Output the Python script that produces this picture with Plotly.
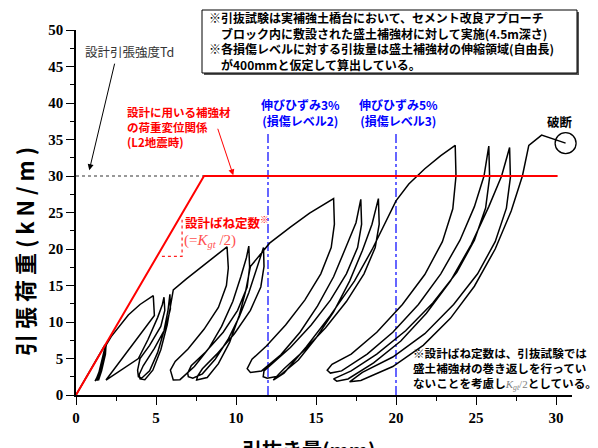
import plotly.graph_objects as go

# ---------------- data ----------------
# design load-displacement relation (red) and design tensile strength (dotted)
design_x = [0, 8, 30.1]
design_y = [0, 30, 30]
td_x = [0, 8]
td_y = [30, 30]
# slope triangle for design spring constant
spring_x = [5.37, 6.63, 6.63]
spring_y = [19.0, 19.0, 24.0]
# strain levels (blue dash-dot lines)
strain3_x = [12, 12]
strain5_x = [20, 20]
strain_y = [0, 36]

# cyclic pull-out test curve, level by level
lvl1_x = [0, 0.5, 1.0, 1.5, 1.81, 1.78, 1.5, 1.25, 1.19, 1.4, 1.62, 1.8, 1.86, 1.82, 1.52, 1.3,
          1.5, 1.7, 1.88, 1.84, 1.6, 1.4, 1.62, 1.8, 1.9]
lvl1_y = [0, 1.9, 3.75, 5.6, 6.85, 5.8, 3.5, 2.1, 1.9, 2.8, 4.9, 6.5, 6.95, 5.4, 3.0, 1.95,
          3.0, 5.1, 6.95, 5.6, 3.3, 2.0, 3.6, 5.8, 6.9]

lvl2_x = [2.2, 2.7, 3.27, 4.0, 4.83, 4.9, 4.0, 1.875, 3.9, 4.5, 5.1, 5.4, 5.5, 5.55, 5.3, 4.6,
          4.0, 3.85, 3.9, 4.1, 4.6, 5.1, 5.5, 5.75, 5.87, 5.9, 5.6, 4.9, 4.2, 3.95, 4.0, 4.3]
lvl2_y = [8.0, 9.4, 10.96, 12.4, 13.6, 10.9, 8.3, 2.05, 5.0, 7.6, 10.6, 12.4, 13.4, 11.6, 9.4, 6.8,
          5.0, 3.4, 2.5, 2.3, 3.3, 5.8, 8.8, 11.6, 13.8, 11.8, 9.2, 6.4, 4.0, 2.8, 2.2, 2.1]

lvl3_x = [4.8, 5.3, 5.7, 5.95, 6.08, 6.9, 7.96, 8.8, 9.44, 9.52, 9.4, 8.9, 8.0, 7.0, 6.2, 5.9,
          6.08, 6.5, 7.4, 8.3, 9.1, 9.8, 10.3, 10.65, 10.8, 10.85, 10.7, 10.1, 9.2, 8.1, 7.2,
          6.98, 7.02, 7.3, 7.9, 8.7, 9.5, 10.2, 10.8, 11.3, 11.6, 11.72, 11.75, 11.55, 10.9,
          9.9, 8.8, 7.9, 7.6, 7.54]
lvl3_y = [3.4, 6.2, 9.6, 12.6, 14.4, 15.9, 17.8, 19.2, 20.3, 17.4, 15.0, 12.0, 9.0, 6.3, 4.6, 3.4,
          2.05, 2.1, 3.9, 6.4, 9.4, 12.8, 16.2, 18.8, 20.4, 17.5, 14.8, 11.6, 8.6, 5.9, 4.0,
          3.0, 2.5, 2.3, 2.9, 4.9, 7.6, 10.7, 14.0, 17.2, 19.2, 20.2, 17.6, 14.8, 11.6,
          8.4, 5.6, 3.6, 2.6, 2.05]

lvl4_x = [8.2, 8.9, 9.6, 10.2, 10.6, 10.9, 12.1, 13.4, 14.6, 15.4, 16.1, 16.15, 15.95, 15.3, 14.3,
          13.1, 11.9, 11.0, 10.7, 10.9, 11.6, 12.8, 14.0, 15.1, 16.1, 16.9, 17.5, 17.8, 17.85,
          17.6, 16.9, 15.9, 14.7, 13.4, 12.3, 11.75, 11.7, 11.95, 12.7, 13.9, 15.0, 16.1, 17.1,
          17.9, 18.5, 18.9, 18.95, 18.7, 18.0, 16.9, 15.6, 14.2, 13.0, 12.4, 12.33]
lvl4_y = [2.4, 4.3, 7.2, 10.9, 14.2, 17.6, 20.8, 23.0, 24.9, 26.0, 26.9, 23.4, 20.2, 16.6, 13.0,
          9.6, 6.7, 4.9, 3.6, 3.1, 3.3, 5.5, 8.6, 12.2, 16.2, 20.4, 23.6, 26.8, 23.4,
          20.2, 16.6, 13.0, 9.6, 6.5, 4.4, 3.3, 2.5, 2.3, 2.6, 4.8, 7.8, 11.4, 15.6,
          19.8, 23.4, 26.9, 23.4, 20.2, 16.6, 12.8, 9.2, 6.0, 3.6, 2.3, 2.05]

lvl5_x = [13.0, 14.4, 15.9, 17.4, 18.5, 19.3, 20.0, 20.8, 21.8, 22.8, 23.7,
          23.75, 23.55, 22.9, 21.8, 20.4, 18.8, 17.2, 16.0, 15.7, 15.9,
          16.6, 18.2, 19.8, 21.4, 22.8, 24.0, 24.9, 25.5, 25.8,
          25.85, 25.6, 24.9, 23.8, 22.3, 20.6, 18.8, 17.2, 16.1, 16.3,
          17.0, 18.6, 20.3, 21.9, 23.4, 24.7, 25.8, 26.6, 27.1,
          27.15, 26.9, 26.2, 25.1, 23.6, 21.8, 19.8, 17.9, 17.1]
lvl5_y = [3.0, 6.6, 10.9, 15.6, 19.9, 23.6, 26.6, 28.9, 31.0, 32.8, 34.2,
          30.0, 25.5, 21.0, 16.5, 12.4, 8.6, 5.6, 4.2, 3.4, 3.0,
          3.3, 5.6, 8.6, 12.4, 16.6, 21.2, 25.8, 30.0, 34.1,
          29.8, 25.6, 21.2, 16.8, 12.6, 8.8, 5.6, 3.3, 2.2, 1.9,
          2.2, 4.4, 7.4, 11.2, 15.6, 20.6, 25.8, 30.0, 33.9,
          29.8, 25.6, 21.0, 16.6, 12.4, 8.4, 5.2, 3.1, 1.8]

final_x = [17.8, 19.8, 21.7, 23.4, 24.9, 26.2, 27.2, 27.9, 28.3, 29.1, 30.6]
final_y = [2.0, 3.9, 6.8, 10.5, 14.9, 20.0, 25.2, 30.0, 34.2, 35.6, 34.5]

rupture_x = [30.6]
rupture_y = [34.5]

x_ticks = [0, 5, 10, 15, 20, 25, 30]
y_ticks = [0, 5, 10, 15, 20, 25, 30, 35, 40, 45, 50]

# ---------------- geometry helpers (screen pixel -> paper) ----------------
OFF = 8                      # page body margin of the browser
L, R, T, B = 76, 572, 30, 395  # plot area edges on screen
W, H = 598 - OFF, 448 - OFF


def px(x):
    return (x - L) / (R - L)


def py(y):
    return (B - y) / (B - T)


JP = "Noto Sans CJK JP"
SERIF = "Liberation Serif"

curve_x = lvl1_x + lvl2_x + lvl3_x + lvl4_x + lvl5_x + final_x
curve_y = lvl1_y + lvl2_y + lvl3_y + lvl4_y + lvl5_y + final_y

fig = go.Figure()
fig.add_trace(go.Scatter(x=td_x, y=td_y, mode="lines",
                         line=dict(color="#333333", width=1.2, dash="dot"), hoverinfo="skip"))
fig.add_trace(go.Scatter(x=strain3_x, y=strain_y, mode="lines",
                         line=dict(color="#0000ff", width=1.2, dash="dashdot"), hoverinfo="skip"))
fig.add_trace(go.Scatter(x=strain5_x, y=strain_y, mode="lines",
                         line=dict(color="#0000ff", width=1.2, dash="dashdot"), hoverinfo="skip"))
fig.add_trace(go.Scatter(x=spring_x, y=spring_y, mode="lines",
                         line=dict(color="#ff2020", width=1.2, dash="dot"), hoverinfo="skip"))
fig.add_trace(go.Scatter(x=curve_x, y=curve_y, mode="lines",
                         line=dict(color="black", width=1.5), hoverinfo="skip"))
fig.add_trace(go.Scatter(x=design_x, y=design_y, mode="lines",
                         line=dict(color="#ff0000", width=2), hoverinfo="skip"))
fig.add_trace(go.Scatter(x=rupture_x, y=rupture_y, mode="markers", cliponaxis=False,
                         marker=dict(symbol="circle-open", size=21, color="black",
                                     line=dict(width=1.3, color="black")),
                         hoverinfo="skip"))

axis_common = dict(
    showgrid=False, zeroline=False, showline=True, linecolor="black", linewidth=1.5,
    ticks="outside", ticklen=8, tickwidth=1.3, tickcolor="black",
    tickfont=dict(family=SERIF, size=15, color="black", weight="bold"),
    minor=dict(ticks="outside", ticklen=4, tickwidth=1.2, tickcolor="black", dtick=2.5),
)
fig.update_xaxes(range=[0, 31], tickvals=x_ticks, **axis_common)
fig.update_yaxes(range=[0, 50], tickvals=y_ticks, **axis_common)

ann = []


def text(x, y, s, size=12.5, color="black", bold=True, family=JP, anchor="left",
         yanchor="middle"):
    ann.append(dict(xref="paper", yref="paper", x=px(x), y=py(y), text=s, showarrow=False,
                    xanchor=anchor, yanchor=yanchor, align="left",
                    font=dict(family=family, size=size, color=color,
                              weight="bold" if bold else "normal")))


# axis titles
ann.append(dict(xref="paper", yref="paper", x=px(24), y=py(252),
                text="引 張 荷 重 ( k N / m )",
                showarrow=False, textangle=-90, xanchor="center", yanchor="middle",
                font=dict(family=JP, size=22, color="black", weight="bold")))
ann.append(dict(xref="paper", yref="paper", x=px(309), y=py(433), text="引抜き量(mm)",
                showarrow=False, xanchor="center", yanchor="top",
                font=dict(family=JP, size=20, color="black", weight="bold")))

# top note box
text(207, 40.5,
     "※引抜試験は実補強土橋台において、セメント改良アプローチ<br>"
     "　ブロック内に敷設された盛土補強材に対して実施(4.5m深さ)<br>"
     "※各損傷レベルに対する引抜量は盛土補強材の伸縮領域(自由長)<br>"
     "　が400mmと仮定して算出している。", size=12)

# design tensile strength label + arrow
text(83, 52, "設計引張強度Td", size=12.5, color="#333333", bold=False)
ann.append(dict(xref="x", yref="y", x=0.83, y=30.8, ax=25.7, ay=-108, axref="pixel",
                ayref="pixel", text="", showarrow=True, arrowhead=2, arrowsize=1.2,
                arrowwidth=1, arrowcolor="black"))

# red design relation label + arrow
text(125, 127, "設計に用いる補強材<br>の荷重変位関係<br>(L2地震時)", size=11.5, color="#ff0000")
ann.append(dict(xref="x", yref="y", x=9.83, y=30.1, ax=-16, ay=-48, axref="pixel",
                ayref="pixel", text="", showarrow=True, arrowhead=2, arrowsize=1.2,
                arrowwidth=1, arrowcolor="#ff0000"))

# spring constant label
text(183, 222, "設計ばね定数<sup>※</sup>", color="#ff0000")
text(182, 241, "(=<i>K</i><sub><i>gt</i></sub> /2)", size=15, color="#ff5050", bold=False,
     family=SERIF)

# strain labels
ann.append(dict(xref="paper", yref="paper", x=px(300), y=py(112.5),
                text="伸びひずみ3%<br>(損傷レベル2)", showarrow=False, xanchor="center",
                yanchor="middle", align="center",
                font=dict(family=JP, size=12, color="#0000ff", weight="bold")))
ann.append(dict(xref="paper", yref="paper", x=px(398), y=py(112.5),
                text="伸びひずみ5%<br>(損傷レベル3)", showarrow=False, xanchor="center",
                yanchor="middle", align="center",
                font=dict(family=JP, size=12, color="#0000ff", weight="bold")))

# rupture label
text(560, 122, "破断", anchor="center")

# bottom-right note
text(411, 368.5,
     "※設計ばね定数は、引抜試験では<br>"
     "盛土補強材の巻き返しを行ってい<br>"
     "ないことを考慮し<span style=\"color:#808080;font-family:Liberation Serif;"
     "font-weight:normal;font-size:11px\"><i>K</i><sub><i>gt</i></sub>/2</span>としている。",
     size=11.6)

shapes = [
    dict(type="rect", xref="paper", yref="paper", x0=px(204), x1=px(579), y0=py(75), y1=py(12),
         fillcolor="#555555", line=dict(width=0), layer="above"),
    dict(type="rect", xref="paper", yref="paper", x0=px(202), x1=px(577), y0=py(73), y1=py(10),
         fillcolor="white", line=dict(color="black", width=1), layer="above"),
]

fig.update_layout(
    width=W, height=H,
    margin=dict(l=L - OFF, r=W - (R - OFF), t=T - OFF, b=H - (B - OFF)),
    paper_bgcolor="white", plot_bgcolor="white",
    showlegend=False,
    annotations=ann, shapes=shapes,
)

fig.write_html("out.html")
